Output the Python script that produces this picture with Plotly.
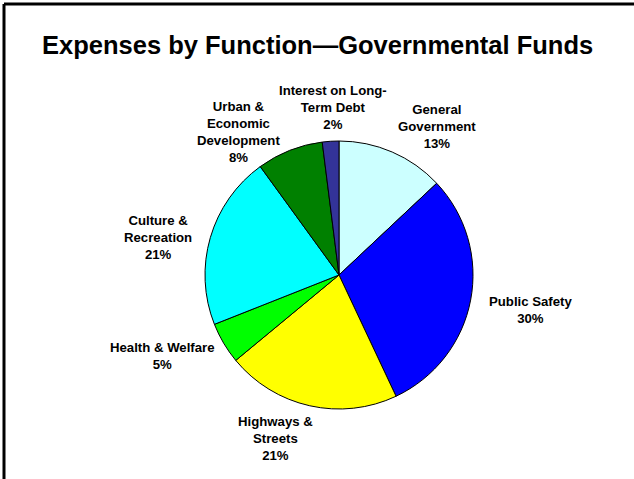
import plotly.graph_objects as go

# slices in clockwise order starting at 12 o'clock
labels = ["General<br>Government", "Public Safety", "Highways &<br>Streets",
          "Health & Welfare", "Culture &<br>Recreation",
          "Urban &<br>Economic<br>Development", "Interest on Long-<br>Term Debt"]
values = [13, 30, 21, 5, 21, 8, 2]
colors = ["#CCFFFF", "#0000FF", "#FFFF00", "#00FF00", "#00FFFF", "#008000", "#333399"]

# label centres in pixels (x, y from top) on the 634x479 page
label_pos = [(437, 126), (530, 310), (275, 438), (162, 356),
             (158, 237), (238, 132), (333, 108)]

W, H = 634, 479

fig = go.Figure(go.Pie(
    labels=[l.replace("<br>", " ") for l in labels], values=values,
    marker=dict(colors=colors, line=dict(color="black", width=1)),
    sort=False, direction="clockwise", rotation=0,
    textinfo="none", hoverinfo="label+percent",
    domain=dict(x=[205 / W, 473 / W], y=[(204 - 134) / H, (204 + 134) / H]),
))

for lab, v, (px_, py_) in zip(labels, values, label_pos):
    fig.add_annotation(text="<b>%s<br>%d%%</b>" % (lab, v),
                       x=px_ / W, y=1 - py_ / H, xref="paper", yref="paper",
                       showarrow=False, xanchor="center", yanchor="middle",
                       align="center",
                       font=dict(family="Liberation Sans, Arial", size=13.2, color="black"))

fig.add_annotation(text="<b>Expenses by Function\u2014Governmental Funds</b>",
                   x=317 / W, y=1 - 45 / H, xref="paper", yref="paper",
                   showarrow=False, xanchor="center", yanchor="middle",
                   font=dict(family="Liberation Sans, Arial", size=25.5, color="black"))

# frame: only the left and top edges are visible in the original slide
fig.add_shape(type="line", xref="paper", yref="paper",
              x0=4 / W, x1=1, y0=1 - 4 / H, y1=1 - 4 / H,
              line=dict(color="black", width=3))
fig.add_shape(type="line", xref="paper", yref="paper",
              x0=4 / W, x1=4 / W, y0=0, y1=1 - 4 / H,
              line=dict(color="black", width=3))

fig.update_layout(width=W, height=H, margin=dict(l=0, r=0, t=0, b=0),
                  showlegend=False, paper_bgcolor="white", plot_bgcolor="white")

fig.write_html("out.html", config={"displayModeBar": False},
               post_script="document.body.style.margin='0';"
                           "document.body.style.overflow='hidden';"
                           "document.documentElement.style.overflow='hidden';")
